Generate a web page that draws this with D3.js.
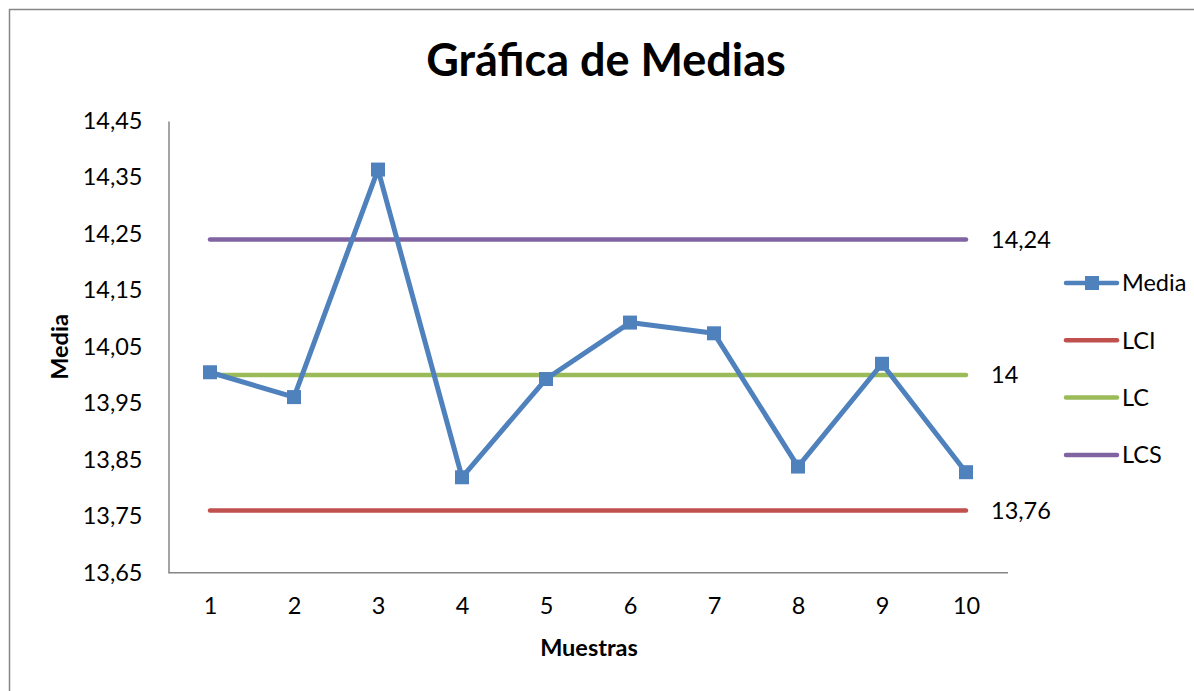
<!DOCTYPE html>
<html><head><meta charset="utf-8">
<script src="https://cdn.jsdelivr.net/npm/d3@7"></script>
<style>body{margin:0;background:#fff;} text{font-family:Lato,"Open Sans",sans-serif;}</style>
</head><body>
<svg id="c" width="1194" height="691"></svg>
<script>
const categories = [1,2,3,4,5,6,7,8,9,10];
const media = [14.005, 13.961, 14.364, 13.819, 13.993, 14.093, 14.074, 13.838, 14.020, 13.828];
const lci = 13.76, lc = 14, lcs = 14.24;
const yTicks = [13.65,13.75,13.85,13.95,14.05,14.15,14.25,14.35,14.45];
const seriesNames = ["Media","LCI","LC","LCS"];
const colors = {Media:"#4F81BD", LCI:"#C0504D", LC:"#9BBB59", LCS:"#8064A2"};
const FS = 23.5;

const svg = d3.select("#c");
svg.append("rect").attr("x",9.5).attr("y",9.5).attr("width",1200).attr("height",700)
  .attr("fill","#fff").attr("stroke","#868686").attr("stroke-width",1.5);

const x = d3.scalePoint().domain(categories).range([210, 966]);
const y = d3.scaleLinear().domain([13.65,14.45]).range([572.7,121]);
const fmt = d => d3.format(".2f")(d).replace(".", ",");

// axes
const ya = svg.append("g").attr("transform","translate(168.5,0)")
  .call(d3.axisLeft(y).tickValues(yTicks).tickSize(0).tickPadding(26).tickFormat(fmt));
ya.select(".domain").attr("stroke","#868686").attr("stroke-width",1.5);
ya.selectAll("text").attr("font-size",FS).attr("fill","#000").attr("font-family","Lato,'Open Sans',sans-serif");

const xa = svg.append("g").attr("transform","translate(0,572.7)")
  .call(d3.axisBottom(x).tickSize(0).tickPadding(25));
xa.select(".domain").attr("d","M168.5,0H1008").attr("stroke","#868686").attr("stroke-width",1.5);
xa.selectAll("text").attr("font-size",FS).attr("fill","#000").attr("font-family","Lato,'Open Sans',sans-serif");

// control lines
const ctrl = [["LCI",lci],["LC",lc],["LCS",lcs]];
ctrl.forEach(([n,v]) => {
  svg.append("line").attr("x1",x(1)).attr("x2",x(10)).attr("y1",y(v)).attr("y2",y(v))
    .attr("stroke",colors[n]).attr("stroke-width",4.5).attr("stroke-linecap","round");
  svg.append("text").attr("x",991).attr("y",y(v)).attr("dy","0.35em")
    .attr("font-size",FS).text(v===14?"14":fmt(v));
});

// media line
const line = d3.line().x((d,i)=>x(categories[i])).y(d=>y(d));
svg.append("path").datum(media).attr("d",line).attr("fill","none")
  .attr("stroke",colors.Media).attr("stroke-width",5).attr("stroke-linejoin","round");
svg.selectAll(".m").data(media).enter().append("rect")
  .attr("x",(d,i)=>x(categories[i])-7).attr("y",d=>y(d)-7).attr("width",14).attr("height",14)
  .attr("fill",colors.Media);

// titles
svg.append("text").attr("x",606).attr("y",76).attr("text-anchor","middle")
  .attr("font-size",45).attr("font-weight","bold").text("Gráfica de Medias");
svg.append("text").attr("transform","translate(68,347) rotate(-90)").attr("text-anchor","middle")
  .attr("font-size",FS).attr("font-weight","bold").text("Media");
svg.append("text").attr("x",589).attr("y",656).attr("text-anchor","middle")
  .attr("font-size",FS).attr("font-weight","bold").text("Muestras");

// legend
const lg = svg.append("g");
seriesNames.forEach((n,i) => {
  const yy = 283 + i*57.3;
  lg.append("line").attr("x1",1066).attr("x2",1117).attr("y1",yy).attr("y2",yy)
    .attr("stroke",colors[n]).attr("stroke-width",4.5).attr("stroke-linecap","round");
  if (n==="Media") lg.append("rect").attr("x",1085).attr("y",yy-7).attr("width",14).attr("height",14).attr("fill",colors[n]);
  lg.append("text").attr("x",1122).attr("y",yy).attr("dy","0.35em").attr("font-size",FS).text(n);
});
</script>
</body></html>
